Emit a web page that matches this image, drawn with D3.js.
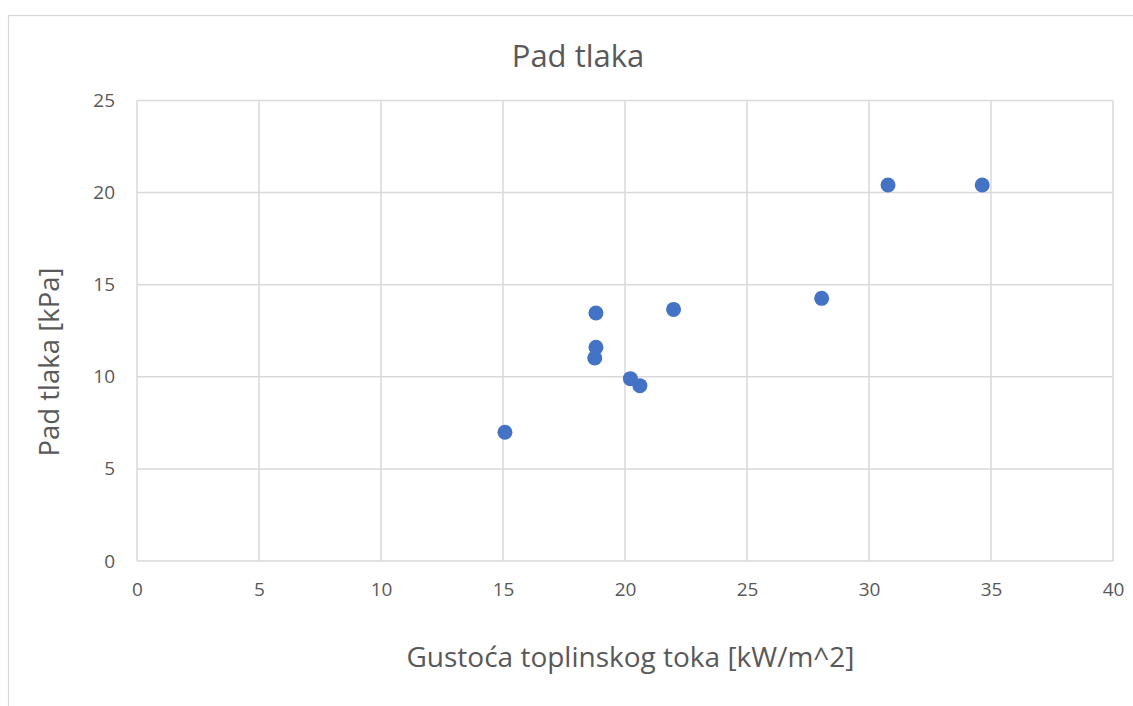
<!DOCTYPE html>
<html>
<head>
<meta charset="utf-8">
<script src="https://cdn.jsdelivr.net/npm/d3@7"></script>
<style>
  html, body { margin: 0; padding: 0; background: #fff; }
  svg { display: block; }
  text { font-family: "Open Sans", "Noto Sans", sans-serif; fill: #595959; }
</style>
</head>
<body>
<svg id="chart" width="1133" height="706"></svg>
<script>
// Heat flux density [kW/m^2] and pressure drop [kPa]
const heatFlux     = [15.08, 18.81, 18.81, 18.76, 20.22, 20.61, 21.99, 28.06, 30.78, 34.64];
const pressureDrop = [6.99, 13.46, 11.60, 11.02, 9.90, 9.52, 13.66, 14.26, 20.41, 20.41];
const xTicks = [0, 5, 10, 15, 20, 25, 30, 35, 40];
const yTicks = [0, 5, 10, 15, 20, 25];

const titleText = "Pad tlaka";
const xTitle = "Gustoća toplinskog toka [kW/m^2]";
const yTitle = "Pad tlaka [kPa]";

const svg = d3.select("#chart");
const W = 1133, H = 706;
const plot = { left: 137, right: 1113, top: 100.5, bottom: 561 };

// chart frame
svg.append("rect")
  .attr("x", 8.5).attr("y", 15.5)
  .attr("width", W + 20).attr("height", H + 20)
  .attr("fill", "#fff").attr("stroke", "#d9d9d9").attr("stroke-width", 1.3);

const x = d3.scaleLinear().domain([0, 40]).range([plot.left, plot.right]);
const y = d3.scaleLinear().domain([0, 25]).range([plot.bottom, plot.top]);

// gridlines
const grid = svg.append("g").attr("stroke", "#d9d9d9").attr("stroke-width", 1.5);
grid.selectAll("line.v").data(xTicks).join("line")
  .attr("x1", d => x(d)).attr("x2", d => x(d))
  .attr("y1", plot.top).attr("y2", plot.bottom);
grid.selectAll("line.h").data(yTicks).join("line")
  .attr("x1", plot.left).attr("x2", plot.right)
  .attr("y1", d => y(d)).attr("y2", d => y(d));

// axes (labels only)
const xAxis = svg.append("g").attr("transform", `translate(0,${plot.bottom})`)
  .call(d3.axisBottom(x).tickValues(xTicks).tickSize(0).tickPadding(22));
const yAxis = svg.append("g").attr("transform", `translate(${plot.left},0)`)
  .call(d3.axisLeft(y).tickValues(yTicks).tickSize(0).tickPadding(22));
[xAxis, yAxis].forEach(a => {
  a.select(".domain").remove();
  a.selectAll("text").attr("font-size", 19).attr("fill", "#595959")
    .style("font-family", '"Open Sans", "Noto Sans", sans-serif');
});

// data points
svg.append("g").selectAll("circle").data(heatFlux).join("circle")
  .attr("cx", d => x(d))
  .attr("cy", (d, i) => y(pressureDrop[i]))
  .attr("r", 7.5)
  .attr("fill", "#4472c4");

// titles
svg.append("text").attr("x", 578).attr("y", 67)
  .attr("text-anchor", "middle").attr("font-size", 31).text(titleText);
svg.append("text").attr("x", 630.5).attr("y", 667)
  .attr("text-anchor", "middle").attr("font-size", 28).text(xTitle);
svg.append("text")
  .attr("transform", `translate(59,362) rotate(-90)`)
  .attr("text-anchor", "middle").attr("font-size", 27.5).text(yTitle);
</script>
</body>
</html>
